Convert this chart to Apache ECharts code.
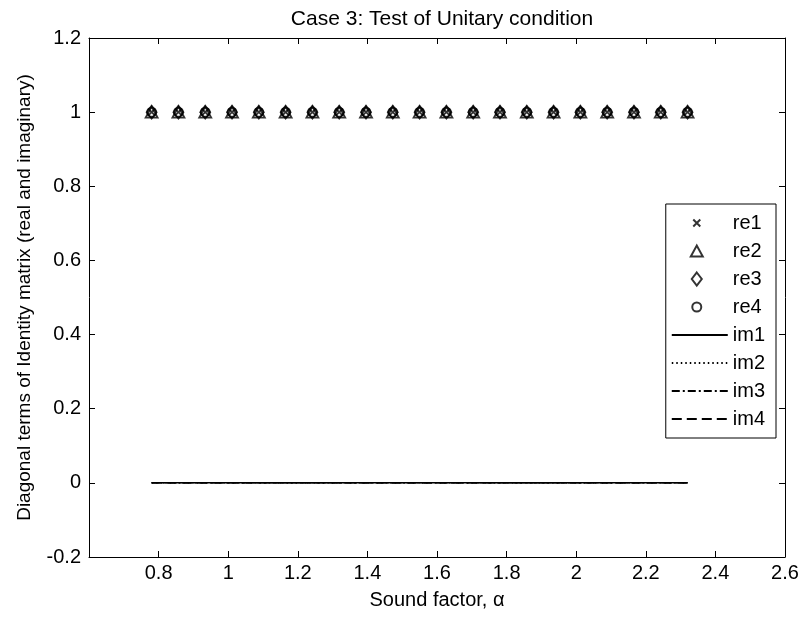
<!DOCTYPE html>
<html>
<head>
<meta charset="utf-8">
<script src="https://cdn.jsdelivr.net/npm/echarts@6/dist/echarts.min.js"></script>
<style>
  html, body { margin: 0; padding: 0; background: #fff; }
  #chart { width: 803px; height: 619px; }
</style>
</head>
<body>
<div id="chart"></div>
<script>
// Sound factor samples
const alpha = [0.78, 0.857, 0.934, 1.011, 1.088, 1.165, 1.242, 1.319, 1.396, 1.473,
               1.55, 1.627, 1.704, 1.781, 1.858, 1.935, 2.012, 2.089, 2.166, 2.243, 2.32];

// Real parts of the diagonal terms
const re1 = [1, 1, 1, 1, 1, 1, 1, 1, 1, 1, 1, 1, 1, 1, 1, 1, 1, 1, 1, 1, 1];
const re2 = [1, 1, 1, 1, 1, 1, 1, 1, 1, 1, 1, 1, 1, 1, 1, 1, 1, 1, 1, 1, 1];
const re3 = [1, 1, 1, 1, 1, 1, 1, 1, 1, 1, 1, 1, 1, 1, 1, 1, 1, 1, 1, 1, 1];
const re4 = [1, 1, 1, 1, 1, 1, 1, 1, 1, 1, 1, 1, 1, 1, 1, 1, 1, 1, 1, 1, 1];

// Imaginary parts of the diagonal terms
const im1 = [0, 0, 0, 0, 0, 0, 0, 0, 0, 0, 0, 0, 0, 0, 0, 0, 0, 0, 0, 0, 0];
const im2 = [0, 0, 0, 0, 0, 0, 0, 0, 0, 0, 0, 0, 0, 0, 0, 0, 0, 0, 0, 0, 0];
const im3 = [0, 0, 0, 0, 0, 0, 0, 0, 0, 0, 0, 0, 0, 0, 0, 0, 0, 0, 0, 0, 0];
const im4 = [0, 0, 0, 0, 0, 0, 0, 0, 0, 0, 0, 0, 0, 0, 0, 0, 0, 0, 0, 0, 0];

const FONT = 'Liberation Sans';
const FS = 20;
const BLACK = '#000';

// Legend icons: the leading moves pin the icon box to 56x14 so each marker
// keeps its own size and sits in the middle of the token area
const ICON_BOX = 'M0,0M56,14';
const legendIcons = {
  re1: 'path://' + ICON_BOX + 'M21.5,3.5L28.5,10.5M21.5,10.5L28.5,3.5',
  re2: 'path://' + ICON_BOX + 'M19,12.5L31,12.5L25,1.5Z',
  re3: 'path://' + ICON_BOX + 'M25,0.5L30,7L25,13.5L20,7Z',
  re4: 'path://' + ICON_BOX + 'M29.5,7A4.5,4.5,0,1,1,20.5,7A4.5,4.5,0,1,1,29.5,7Z'
};

function pairs(ys) {
  return alpha.map((x, i) => [x, ys[i]]);
}

function markerSeries(name, ys, symbol, size) {
  return {
    name: name,
    type: 'scatter',
    data: pairs(ys),
    symbol: symbol,
    symbolSize: size,
    itemStyle: { color: 'rgba(0,0,0,0)', borderColor: BLACK, borderWidth: 1.8 },
    emphasis: { disabled: true },
    z: 3
  };
}

function lineSeries(name, ys, dash) {
  return {
    name: name,
    type: 'line',
    data: pairs(ys),
    symbol: 'none',
    lineStyle: { color: BLACK, width: 1.5, type: dash },
    itemStyle: { color: BLACK },
    emphasis: { disabled: true },
    z: 2
  };
}

const axisCommon = {
  axisLine: { show: true, onZero: false, lineStyle: { color: BLACK, width: 1 } },
  axisTick: { show: true, inside: true, length: 6, lineStyle: { color: BLACK } },
  splitLine: { show: false }
};

const chart = echarts.init(document.getElementById('chart'), null, { renderer: 'canvas' });

chart.setOption({
  animation: false,
  backgroundColor: '#fff',
  textStyle: { fontFamily: FONT, color: BLACK },
  title: {
    text: 'Case 3: Test of Unitary condition',
    left: 437,
    textAlign: 'center',
    top: 4,
    textStyle: { fontFamily: FONT, fontSize: 21, fontWeight: 'normal', color: BLACK }
  },
  grid: { left: 89, right: 18, top: 38, bottom: 62, containLabel: false },
  xAxis: [
    Object.assign({
      type: 'value',
      min: 0.6, max: 2.6, interval: 0.2,
      position: 'bottom',
      name: 'Sound factor, α',
      nameLocation: 'middle',
      nameGap: 33,
      nameTextStyle: { fontFamily: FONT, fontSize: FS, color: BLACK },
      axisLabel: { showMinLabel: false, color: BLACK, fontFamily: FONT, fontSize: FS, margin: 6 }
    }, axisCommon),
    Object.assign({
      type: 'value',
      min: 0.6, max: 2.6, interval: 0.2,
      position: 'top',
      axisLabel: { show: false }
    }, axisCommon)
  ],
  yAxis: [
    Object.assign({
      type: 'value',
      min: -0.2, max: 1.2, interval: 0.2,
      position: 'left',
      name: 'Diagonal terms of Identity matrix (real and imaginary)',
      nameLocation: 'middle',
      nameGap: 55,
      nameTextStyle: { fontFamily: FONT, fontSize: 19, color: BLACK },
      axisLabel: { color: BLACK, fontFamily: FONT, fontSize: FS, margin: 8 }
    }, axisCommon),
    Object.assign({
      type: 'value',
      min: -0.2, max: 1.2, interval: 0.2,
      position: 'right',
      axisLabel: { show: false }
    }, axisCommon)
  ],
  legend: {
    orient: 'vertical',
    right: 27,
    top: 204,
    backgroundColor: '#fff',
    borderColor: BLACK,
    borderWidth: 1,
    borderRadius: 0,
    padding: [9, 11, 9, 5],
    itemWidth: 56,
    itemHeight: 14,
    itemGap: 8,
    selectedMode: false,
    textStyle: { fontFamily: FONT, fontSize: FS, color: BLACK },
    data: [
      { name: 're1', icon: legendIcons.re1 },
      { name: 're2', icon: legendIcons.re2 },
      { name: 're3', icon: legendIcons.re3 },
      { name: 're4', icon: legendIcons.re4 },
      { name: 'im1', itemStyle: { opacity: 0 } },
      { name: 'im2', itemStyle: { opacity: 0 } },
      { name: 'im3', itemStyle: { opacity: 0 } },
      { name: 'im4', itemStyle: { opacity: 0 } }
    ]
  },
  series: [
    markerSeries('re1', re1, 'path://M0,0L10,10M0,10L10,0', 7),
    markerSeries('re2', re2, 'triangle', [12, 11]),
    markerSeries('re3', re3, 'diamond', [10, 13]),
    markerSeries('re4', re4, 'circle', 9),
    lineSeries('im1', im1, 'solid'),
    lineSeries('im2', im2, [1.5, 3]),
    lineSeries('im3', im3, [8, 3, 2, 3]),
    lineSeries('im4', im4, [10, 5])
  ]
});
</script>
</body>
</html>
